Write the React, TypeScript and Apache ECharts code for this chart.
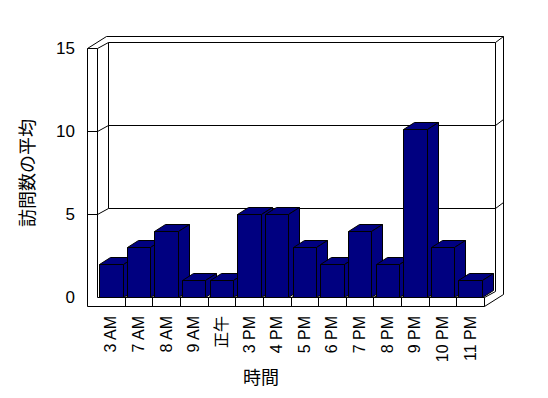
import { useEffect, useRef } from "react";
import * as echarts from "echarts";

const categories = ["3 AM", "7 AM", "8 AM", "9 AM", "正午", "3 PM", "4 PM", "5 PM", "6 PM", "7 PM", "8 PM", "9 PM", "10 PM", "11 PM"];
const visits = [2, 3, 4, 1, 1, 5, 5, 3, 2, 4, 2, 10.1, 3, 1];
const yMin = 0;
const yMax = 15;
const yInterval = 5;
const gridValues = [5, 10];
const xTitle = "時間";
const yTitle = "訪問数の平均";

const FONT = "'Liberation Sans', 'Noto Sans CJK JP', sans-serif";
const BAR_COLOR = "#000080";
const D1 = [11, -6]; // inner depth
const D2 = [18.5, -12.5]; // outer depth
const WALL_T = 10;
const FLOOR_T = 9;
const BAR_D = [11, -7];

const px = (v: number) => Math.round(v) + 0.5;
const P = (x: number, y: number) => [px(x), px(y)];

const lineStyle = { stroke: "#000", fill: null, lineWidth: 1 };

function frameItem(_params: any, api: any) {
  const bw = api.size([1, 0])[0];
  const c0 = api.coord([0, yMin]);
  const L = c0[0] - bw / 2;
  const R = api.coord([categories.length - 1, yMin])[0] + bw / 2;
  const B = c0[1];
  const T = api.coord([0, yMax])[1];
  const yv = (v: number) => api.coord([0, v])[1];
  const children: any[] = [];
  // outer silhouette
  children.push({
    type: "polygon",
    shape: {
      points: [
        P(L - WALL_T, T),
        P(L - WALL_T + D2[0], T + D2[1]),
        P(R + D2[0], T + D2[1]),
        P(R + D2[0], B + FLOOR_T + D2[1]),
        P(R, B + FLOOR_T),
        P(L - WALL_T, B + FLOOR_T),
      ],
    },
    style: { fill: "#fff", stroke: "#000", lineWidth: 1 },
  });
  // top edges
  children.push({
    type: "polyline",
    shape: {
      points: [P(L - WALL_T, T), P(L, T), P(L + D1[0], T + D1[1]), P(R + D1[0], T + D1[1]), P(R + D2[0], T + D2[1])],
    },
    style: lineStyle,
  });
  // right back edge + floor diagonal
  children.push({
    type: "polyline",
    shape: { points: [P(R + D1[0], T + D1[1]), P(R + D1[0], B + D1[1]), P(R, B)] },
    style: lineStyle,
  });
  // left back corner (visible down to lowest grid line)
  children.push({
    type: "polyline",
    shape: { points: [P(L + D1[0], T + D1[1]), P(L + D1[0], yv(gridValues[0]) + D1[1])] },
    style: lineStyle,
  });
  // left wall inner front edge + floor front top edge + right end
  children.push({
    type: "polyline",
    shape: { points: [P(L, T), P(L, B), P(R, B), P(R, B + FLOOR_T)] },
    style: lineStyle,
  });
  // grid lines
  gridValues.forEach((v) => {
    const y = yv(v);
    children.push({
      type: "polyline",
      shape: {
        points: [P(L - WALL_T, y), P(L, y), P(L + D1[0], y + D1[1]), P(R + D1[0], y + D1[1]), P(R + D2[0], y + D2[1])],
      },
      style: lineStyle,
    });
  });
  // floor dividers
  for (let i = 1; i < categories.length; i++) {
    const x = L + i * bw;
    children.push({
      type: "polyline",
      shape: { points: [P(x, B + FLOOR_T), P(x, B), P(x + D1[0], B + D1[1])] },
      style: lineStyle,
    });
  }
  return { type: "group", children };
}

function barItem(_params: any, api: any) {
  const idx = api.value(0);
  const val = api.value(1);
  const top = api.coord([idx, val]);
  const base = api.coord([idx, yMin]);
  const w = api.size([1, 0])[0] * 0.85;
  const x0 = px(top[0] - w / 2);
  const x1 = px(top[0] + w / 2);
  const yT = px(top[1]);
  const yB = px(base[1]);
  const dx = BAR_D[0];
  const dy = BAR_D[1];
  const style = { fill: BAR_COLOR, stroke: "#000", lineWidth: 1 };
  return {
    type: "group",
    children: [
      { type: "polygon", shape: { points: [[x0, yT], [x1, yT], [x1, yB], [x0, yB]] }, style },
      { type: "polygon", shape: { points: [[x0, yT], [x1, yT], [x1 + dx, yT + dy], [x0 + dx, yT + dy]] }, style },
      { type: "polygon", shape: { points: [[x1, yT], [x1 + dx, yT + dy], [x1 + dx, yB + dy], [x1, yB]] }, style },
    ],
  };
}

export default function App() {
  const ref = useRef<HTMLDivElement>(null);
  useEffect(() => {
    document.body.style.margin = "0";
    const chart = echarts.init(ref.current!, null, { renderer: "svg" });
    chart.setOption({
      animation: false,
      backgroundColor: "#fff",
      grid: { left: 97, right: 64, top: 48, bottom: 101 },
      xAxis: {
        type: "category",
        data: categories,
        boundaryGap: true,
        axisLine: { show: false },
        axisTick: { show: false },
        axisLabel: { rotate: 90, margin: 19, fontSize: 16, color: "#000", fontFamily: FONT, interval: 0 },
        splitLine: { show: false },
      },
      yAxis: {
        type: "value",
        min: yMin,
        max: yMax,
        interval: yInterval,
        axisLine: { show: false },
        axisTick: { show: false },
        splitLine: { show: false },
        axisLabel: { margin: 22, fontSize: 17, color: "#000", fontFamily: FONT },
      },
      graphic: [
        {
          type: "text",
          x: 261,
          y: 378,
          style: { text: xTitle, fontSize: 18, fill: "#000", fontFamily: FONT, align: "center", verticalAlign: "middle" },
        },
        {
          type: "text",
          x: 28,
          y: 173,
          rotation: Math.PI / 2,
          style: { text: yTitle, fontSize: 18, fill: "#000", fontFamily: FONT, align: "center", verticalAlign: "middle" },
        },
      ],
      series: [
        {
          type: "custom",
          silent: true,
          clip: false,
          z: 1,
          data: [[0, 0]],
          encode: { x: 0, y: 1 },
          renderItem: frameItem,
        },
        {
          type: "custom",
          silent: true,
          clip: false,
          z: 2,
          data: visits.map((v, i) => [i, v]),
          encode: { x: 0, y: 1 },
          renderItem: barItem,
        },
      ],
    });
    return () => chart.dispose();
  }, []);
  return <div ref={ref} style={{ width: 548, height: 398 }} />;
}
